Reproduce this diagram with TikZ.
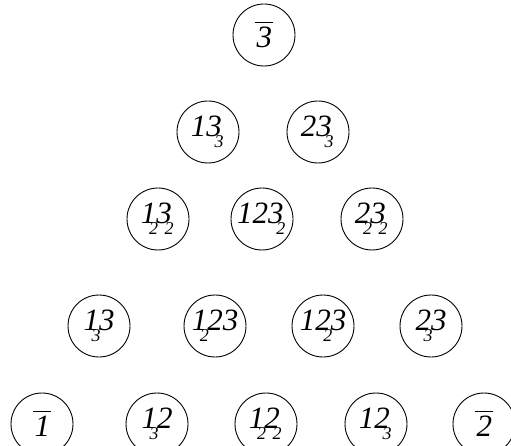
\documentclass[tikz,border=0pt]{standalone}
\usepackage{fontspec}
\setmainfont{Liberation Serif}
\newcommand\lsub[1]{\rlap{\kern-0.24em\raisebox{-0.36em}{\fontsize{18}{18}\selectfont #1}}}
\newcommand\ovl[1]{\vbox{\hrule height 1.1pt \kern 0.14em \hbox{\kern0.04em #1\kern0.02em}}}
\begin{document}
\begin{tikzpicture}[x=1pt,y=-1pt,
  cnode/.style={draw,circle,line width=0.9pt,minimum size=62pt,inner sep=0pt,
    font=\fontsize{31}{31}\selectfont\itshape}]
\useasboundingbox (0,0) rectangle (511,446);
\node[cnode] (a) at (264,35) {\ovl{3}};
\node[cnode] (b1) at (208,132) {13\lsub{3}\hphantom{\kern0.1em}};
\node[cnode] (b2) at (318,132) {23\lsub{3}\hphantom{\kern0.1em}};
\node[cnode] (c1) at (158,219) {1\lsub{2}3\lsub{2}\hphantom{\kern0.1em}};
\node[cnode] (c2) at (262,219) {123\lsub{2}\hphantom{\kern0.1em}};
\node[cnode] (c3) at (372,219) {2\lsub{2}3\lsub{2}\hphantom{\kern0.1em}};
\node[cnode] (d1) at (99,326) {1\lsub{3}3};
\node[cnode] (d2) at (215,326) {1\lsub{2}23};
\node[cnode] (d3) at (323,326) {12\lsub{2}3};
\node[cnode] (d4) at (431,326) {2\lsub{3}3};
\node[cnode] (e1) at (42,424) {\ovl{1}};
\node[cnode] (e2) at (157,424) {1\lsub{3}2};
\node[cnode] (e3) at (266,424) {1\lsub{2}2\lsub{2}\hphantom{\kern0.1em}};
\node[cnode] (e4) at (376,424) {12\lsub{3}\hphantom{\kern0.1em}};
\node[cnode] (e5) at (484,424) {\ovl{2}};
\end{tikzpicture}
\end{document}
